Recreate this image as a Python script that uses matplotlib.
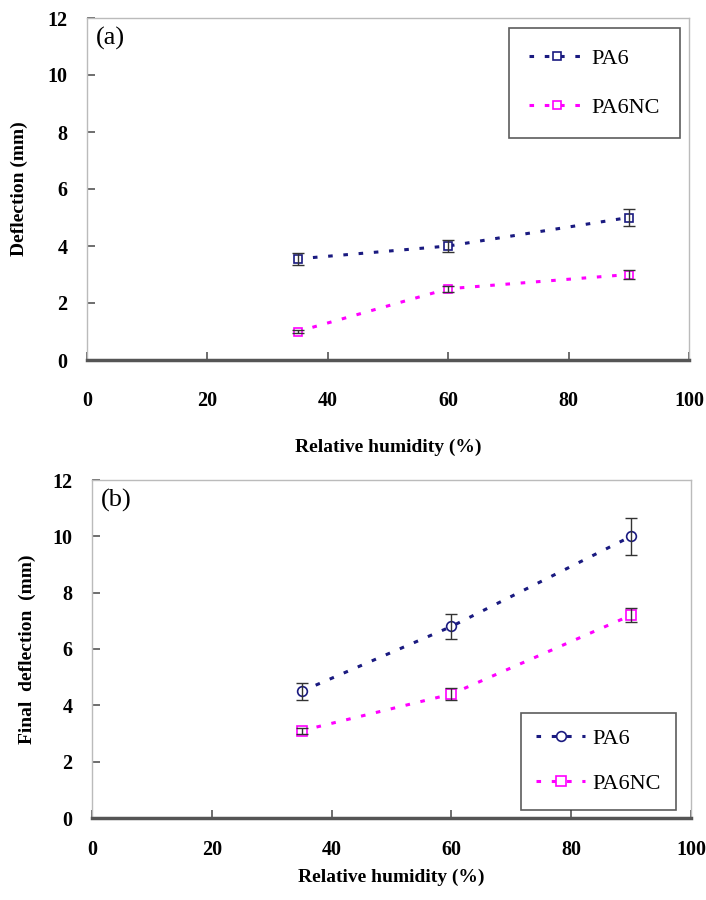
import matplotlib
matplotlib.use("Agg")
import matplotlib.pyplot as plt

rh = [35, 60, 90]
a_pa6 = [3.55, 4.0, 5.0]
a_pa6_err = [0.2, 0.2, 0.3]
a_nc = [1.0, 2.5, 3.0]
a_nc_err = [0.06, 0.1, 0.15]

b_pa6 = [4.5, 6.8, 10.0]
b_pa6_err = [0.3, 0.45, 0.65]
b_nc = [3.1, 4.4, 7.2]
b_nc_err = [0.1, 0.2, 0.25]

xticks = [0, 20, 40, 60, 80, 100]
yticks = [0, 2, 4, 6, 8, 10, 12]

navy = "#1a1a80"
mag = "#ff00ff"
serif = ["Liberation Serif", "DejaVu Serif"]

fig = plt.figure(figsize=(7.06, 9.0), dpi=100)
W, H = 706, 900

def make_ax(l, r, t, b):
    return fig.add_axes([l / W, 1 - b / H, (r - l) / W, (b - t) / H])

axa = make_ax(87, 689, 18, 360)
axb = make_ax(92, 691, 480, 818)

def style(ax, ylabel, xtick_pad, xlabel_pad, ylabel_pad):
    ax.set_xlim(0, 100)
    ax.set_ylim(0, 12)
    ax.set_xticks(xticks)
    ax.set_yticks(yticks)
    for s in ["top", "right", "left"]:
        ax.spines[s].set_color("#bbbbbb")
        ax.spines[s].set_linewidth(1.0)
    ax.spines["bottom"].set_color("#555555")
    ax.spines["bottom"].set_linewidth(2.5)
    ax.tick_params(direction="in", length=6, width=1.2, color="#555555")
    ax.tick_params(axis="x", pad=xtick_pad)
    ax.tick_params(axis="y", pad=14)
    for lab in ax.get_xticklabels() + ax.get_yticklabels():
        lab.set_fontfamily(serif)
        lab.set_fontweight("bold")
        lab.set_fontsize(14.5)
    ax.set_ylabel(ylabel, fontfamily=serif, fontweight="bold", fontsize=14,
                  labelpad=ylabel_pad)
    ax.set_xlabel("Relative humidity (%)", fontfamily=serif, fontweight="bold",
                  fontsize=14, labelpad=xlabel_pad)

ls = (0, (1.5, 3.5))

axa.plot(rh, a_pa6, color=navy, ls=ls, lw=2.2, marker="s", ms=6, mfc="white",
         mec=navy, mew=1.2, label="PA6")
axa.errorbar(rh, a_pa6, yerr=a_pa6_err, fmt="none", ecolor="#333333", capsize=4, lw=1)
axa.plot(rh, a_nc, color=mag, ls=ls, lw=2.2, marker="s", ms=6, mfc="white",
         mec=mag, mew=1.2, label="PA6NC")
axa.errorbar(rh, a_nc, yerr=a_nc_err, fmt="none", ecolor="#333333", capsize=4, lw=1)
style(axa, "Deflection (mm)", 22, 20, 14)
axa.text(0.015, 0.975, "(a)", transform=axa.transAxes, fontfamily=serif, fontsize=19,
         va="top", ha="left")
lga = axa.legend(loc="upper right", bbox_to_anchor=(0.985, 0.97), prop={"family": serif, "size": 16},
                 frameon=True, fancybox=False, edgecolor="#333333", labelspacing=1.3,
                 borderpad=0.9, handlelength=2.5, handletextpad=0.3, borderaxespad=0)
lga.get_frame().set_linewidth(1.2)

axb.plot(rh, b_pa6, color=navy, ls=ls, lw=2.2, marker="o", ms=7, mfc="white",
         mec=navy, mew=1.2, label="PA6")
axb.errorbar(rh, b_pa6, yerr=b_pa6_err, fmt="none", ecolor="#333333", capsize=4, lw=1)
axb.plot(rh, b_nc, color=mag, ls=ls, lw=2.2, marker="s", ms=7, mfc="white",
         mec=mag, mew=1.2, label="PA6NC")
axb.errorbar(rh, b_nc, yerr=b_nc_err, fmt="none", ecolor="#333333", capsize=4, lw=1)
style(axb, "Final  deflection  (mm)", 16, 6, 12)
axb.text(0.015, 0.975, "(b)", transform=axb.transAxes, fontfamily=serif, fontsize=19,
         va="top", ha="left")
lgb = axb.legend(loc="lower right", bbox_to_anchor=(0.975, 0.025), prop={"family": serif, "size": 16},
                 frameon=True, fancybox=False, edgecolor="#333333", labelspacing=1.1,
                 borderpad=0.7, handlelength=2.2, handletextpad=0.3, borderaxespad=0)
lgb.get_frame().set_linewidth(1.2)

fig.savefig("out.png", dpi=100)
